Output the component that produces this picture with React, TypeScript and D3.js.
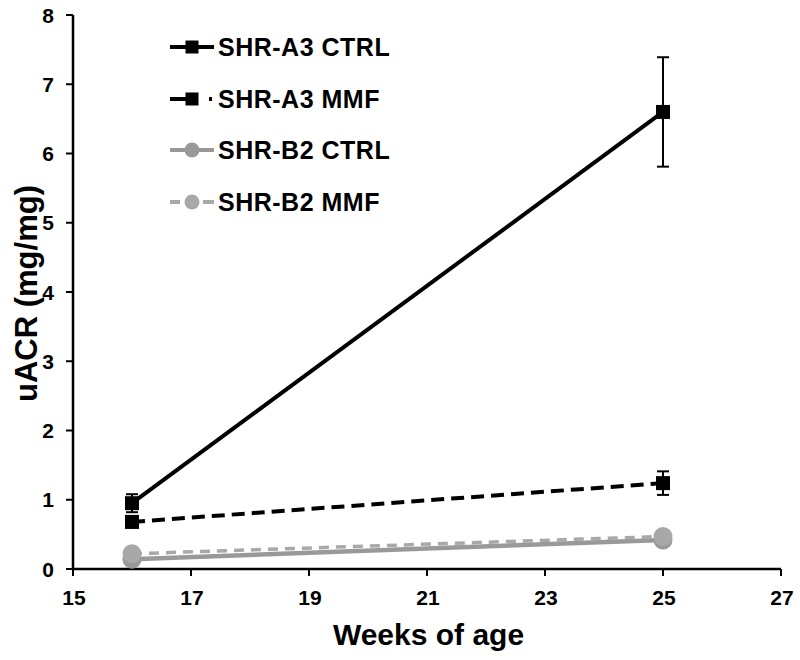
import React from "react";
import * as d3 from "d3";

const weeks = [16, 25];
const seriesNames = ["SHR-A3 CTRL", "SHR-A3 MMF", "SHR-B2 CTRL", "SHR-B2 MMF"];
const a3Ctrl = [0.95, 6.6];
const a3CtrlErr = [0.13, 0.79];
const a3Mmf = [0.68, 1.24];
const a3MmfErr = [0.08, 0.17];
const b2Ctrl = [0.14, 0.42];
const b2CtrlErr = [0.03, 0.04];
const b2Mmf = [0.22, 0.47];
const b2MmfErr = [0.03, 0.04];
const xTicks = [15, 17, 19, 21, 23, 25, 27];
const yTicks = [0, 1, 2, 3, 4, 5, 6, 7, 8];

const series = [
  { name: seriesNames[0], values: a3Ctrl, errs: a3CtrlErr, color: "#000", dash: "", width: 4, marker: "square", legendDash: "" },
  { name: seriesNames[1], values: a3Mmf, errs: a3MmfErr, color: "#000", dash: "13,7", width: 4, marker: "square", legendDash: "17,22,3,10" },
  { name: seriesNames[2], values: b2Ctrl, errs: b2CtrlErr, color: "#999999", dash: "", width: 4.5, marker: "circle", legendDash: "" },
  { name: seriesNames[3], values: b2Mmf, errs: b2MmfErr, color: "#a8a8a8", dash: "10,7", width: 3.5, marker: "circle", legendDash: "10,23,11" },
];

const sans = "'Liberation Sans', Arial, sans-serif";

export default function App() {
  const W = 800, H = 660;
  const x = d3.scaleLinear().domain([15, 27]).range([73, 781]);
  const y = d3.scaleLinear().domain([0, 8]).range([569, 15]);
  const line = d3.line<number>().x((_, i) => x(weeks[i])).y((d) => y(d));

  const drawOrder = [2, 3, 1, 0];
  const legendY = [47, 99, 150, 202];

  return (
    <svg width={W} height={H} style={{ position: "absolute", left: 0, top: 0, background: "#fff" }}>
      <rect width={W} height={H} fill="#fff" />
      {/* axes */}
      <line x1={x(15)} x2={x(15)} y1={y(8)} y2={y(0) + 1} stroke="#000" strokeWidth={2.5} />
      <line x1={x(15) - 1} x2={x(27)} y1={y(0)} y2={y(0)} stroke="#000" strokeWidth={2.5} />
      {yTicks.map((t) => (
        <g key={"y" + t}>
          <line x1={x(15) - 7} x2={x(15)} y1={y(t)} y2={y(t)} stroke="#000" strokeWidth={2} />
          <text x={x(15) - 19} y={y(t)} dy="0.36em" textAnchor="end" fontFamily={sans} fontWeight="bold" fontSize={21}>{t}</text>
        </g>
      ))}
      {xTicks.map((t) => (
        <g key={"x" + t}>
          <line x1={x(t)} x2={x(t)} y1={y(0)} y2={y(0) + 7} stroke="#000" strokeWidth={2} />
          <text x={x(t) + 1} y={605} textAnchor="middle" fontFamily={sans} fontWeight="bold" fontSize={21}>{t}</text>
        </g>
      ))}
      <text x={428.5} y={645} textAnchor="middle" fontFamily={sans} fontWeight="bold" fontSize={30}>Weeks of age</text>
      <text transform={`translate(37, 293.5) rotate(-90)`} textAnchor="middle" fontFamily={sans} fontWeight="bold" fontSize={31}>uACR (mg/mg)</text>

      {/* series */}
      {drawOrder.map((si) => {
        const s = series[si];
        return (
          <g key={s.name}>
            <path d={line(s.values) || ""} fill="none" stroke={s.color} strokeWidth={s.width} strokeDasharray={s.dash} />
            {s.values.map((v, i) => (
              <g key={i}>
                <line x1={x(weeks[i])} x2={x(weeks[i])} y1={y(v - s.errs[i])} y2={y(v + s.errs[i])} stroke={s.color} strokeWidth={2} />
                <line x1={x(weeks[i]) - 6} x2={x(weeks[i]) + 6} y1={y(v + s.errs[i])} y2={y(v + s.errs[i])} stroke={s.color} strokeWidth={2} />
                <line x1={x(weeks[i]) - 6} x2={x(weeks[i]) + 6} y1={y(v - s.errs[i])} y2={y(v - s.errs[i])} stroke={s.color} strokeWidth={2} />
                {s.marker === "square" ? (
                  <rect x={x(weeks[i]) - 7} y={y(v) - 7} width={14} height={14} fill={s.color} />
                ) : (
                  <circle cx={x(weeks[i])} cy={y(v)} r={9.5} fill={s.color} />
                )}
              </g>
            ))}
          </g>
        );
      })}

      {/* legend */}
      {series.map((s, i) => (
        <g key={"lg" + i}>
          <line x1={170} x2={214} y1={legendY[i]} y2={legendY[i]} stroke={s.color} strokeWidth={4} strokeDasharray={s.legendDash} />
          {s.marker === "square" ? (
            <rect x={192 - 6.5} y={legendY[i] - 6.5} width={13} height={13} fill={s.color} />
          ) : (
            <circle cx={192} cy={legendY[i]} r={7.5} fill={s.color} />
          )}
          <text x={218} y={legendY[i]} dy="0.36em" fontFamily={sans} fontWeight="bold" fontSize={25} letterSpacing={0.5}>{s.name}</text>
        </g>
      ))}
    </svg>
  );
}
